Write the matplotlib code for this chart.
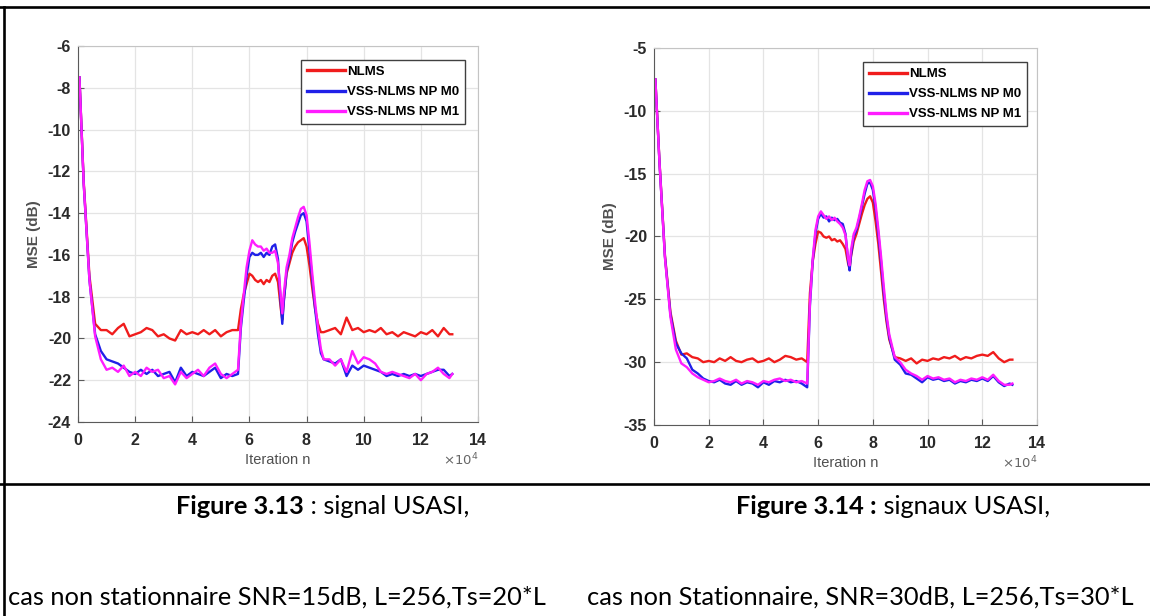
import numpy as np
import matplotlib
matplotlib.use('Agg')
import matplotlib.pyplot as plt
from matplotlib.lines import Line2D
from matplotlib.ticker import ScalarFormatter, MultipleLocator

plt.rcParams['axes.unicode_minus'] = False

# Data (iterations in units of 1e4) -------------------------------- %%%%
iters_e4 = [0.05, 0.2, 0.4, 0.6, 0.8,
            1.0, 1.2, 1.4, 1.6, 1.8, 2.0, 2.2, 2.4, 2.6, 2.8, 3.0, 3.2, 3.4, 3.6, 3.8,
            4.0, 4.2, 4.4, 4.6, 4.8, 5.0, 5.2, 5.4, 5.6,
            5.7, 5.8, 5.9, 6.0, 6.1, 6.2, 6.3, 6.4, 6.5, 6.6, 6.7, 6.8, 6.9, 7.0, 7.1, 7.15,
            7.2, 7.3, 7.4, 7.5, 7.6, 7.7, 7.8, 7.9, 8.0, 8.1, 8.2, 8.3, 8.4, 8.5, 8.6,
            8.8, 9.0, 9.2, 9.4, 9.6, 9.8, 10.0, 10.2, 10.4, 10.6, 10.8, 11.0, 11.2, 11.4,
            11.6, 11.8, 12.0, 12.2, 12.4, 12.6, 12.8, 13.0, 13.1]

# SNR = 15 dB
nlms_15 = [-7.5, -12.5, -17.0, -19.3, -19.6,
           -19.6, -19.8, -19.5, -19.3, -19.9, -19.8, -19.7, -19.5, -19.6, -19.9, -19.8, -20.0, -20.1, -19.6, -19.8,
           -19.7, -19.8, -19.6, -19.8, -19.6, -19.9, -19.7, -19.6, -19.6,
           -18.6, -17.9, -17.4, -16.9, -17.0, -17.2, -17.3, -17.2, -17.4, -17.2, -17.3, -17.0, -16.9, -17.3, -18.6, -19.1,
           -18.2, -16.9, -16.4, -15.9, -15.6, -15.4, -15.3, -15.2, -15.6, -16.5, -17.6, -18.6, -19.3, -19.7, -19.7,
           -19.6, -19.5, -19.8, -19.0, -19.6, -19.5, -19.7, -19.6, -19.7, -19.5, -19.8, -19.7, -19.9, -19.7,
           -19.8, -19.9, -19.7, -19.8, -19.6, -19.9, -19.5, -19.8, -19.8]
m0_15 = [-7.5, -12.6, -17.2, -19.8, -20.6,
         -21.0, -21.1, -21.2, -21.4, -21.6, -21.7, -21.5, -21.7, -21.5, -21.8, -21.7, -21.6, -22.1, -21.4, -21.8,
         -21.6, -21.7, -21.8, -21.6, -21.4, -21.9, -21.7, -21.8, -21.7,
         -19.5, -18.2, -17.0, -16.1, -15.9, -16.0, -16.0, -15.9, -16.1, -15.9, -16.0, -15.6, -15.5, -16.2, -18.4, -19.3,
         -18.3, -16.8, -16.2, -15.4, -14.9, -14.5, -14.1, -14.0, -14.4, -15.8, -17.2, -18.6, -19.8, -20.7, -21.0,
         -21.1, -21.2, -21.0, -21.8, -21.3, -21.5, -21.3, -21.4, -21.5, -21.6, -21.8, -21.7, -21.8, -21.7,
         -21.8, -21.7, -21.8, -21.7, -21.6, -21.5, -21.5, -21.8, -21.7]
m1_15 = [-7.5, -12.6, -17.2, -19.9, -21.0,
         -21.5, -21.4, -21.6, -21.3, -21.8, -21.6, -21.8, -21.4, -21.6, -21.5, -21.9, -21.8, -22.2, -21.6, -21.9,
         -21.7, -21.5, -21.8, -21.4, -21.2, -21.7, -21.9, -21.7, -21.5,
         -19.3, -17.9, -16.6, -15.8, -15.3, -15.5, -15.6, -15.6, -15.8, -15.7, -15.9, -15.9, -15.8, -16.4, -18.0, -18.8,
         -17.9, -16.6, -16.0, -15.2, -14.7, -14.2, -13.8, -13.7, -14.1, -15.4, -16.9, -18.3, -19.5, -20.5, -21.0,
         -21.0, -21.3, -21.0, -21.6, -20.6, -21.2, -20.9, -21.0, -21.2, -21.6, -21.7, -21.6, -21.7, -21.8,
         -21.9, -21.7, -22.0, -21.7, -21.6, -21.4, -21.7, -21.9, -21.7]

# SNR = 30 dB
nlms_30 = [-7.5, -14.0, -21.5, -26.0, -28.3,
           -29.4, -29.3, -29.6, -29.7, -30.0, -29.9, -30.0, -29.7, -29.9, -29.6, -29.9, -30.0, -29.8, -29.7, -30.0,
           -29.9, -29.7, -30.0, -29.8, -29.5, -29.6, -29.8, -29.7, -30.0,
           -24.5, -22.0, -20.6, -19.6, -19.7, -20.0, -20.1, -20.0, -20.3, -20.2, -20.4, -20.3, -20.6, -21.0, -22.2, -22.5,
           -21.6, -20.4, -19.8, -19.0, -18.2, -17.5, -17.0, -16.8, -17.3, -18.8, -20.6, -22.8, -25.0, -26.8, -28.2,
           -29.6, -29.7, -29.9, -29.7, -30.1, -29.8, -29.9, -29.7, -29.8, -29.6, -29.7, -29.5, -29.8, -29.6,
           -29.7, -29.5, -29.4, -29.5, -29.2, -29.7, -30.0, -29.8, -29.8]
m0_30 = [-7.5, -14.1, -21.6, -26.2, -28.5,
         -29.3, -29.7, -30.6, -30.9, -31.3, -31.5, -31.6, -31.4, -31.7, -31.8, -31.5, -31.8, -31.6, -31.7, -32.0,
         -31.6, -31.8, -31.5, -31.6, -31.4, -31.6, -31.5, -31.7, -32.0,
         -25.5, -22.0, -19.8, -18.6, -18.2, -18.5, -18.4, -18.8, -18.5, -18.7, -18.6, -18.9, -19.0, -19.8, -22.0, -22.7,
         -21.5, -20.0, -19.5, -18.6, -17.6, -16.6, -15.8, -15.7, -16.3, -17.8, -19.8, -22.0, -24.5, -26.5, -28.0,
         -29.8, -30.2, -30.9, -31.0, -31.3, -31.6, -31.2, -31.4, -31.3, -31.5, -31.4, -31.7, -31.5, -31.6,
         -31.4, -31.5, -31.3, -31.5, -31.1, -31.6, -31.9, -31.7, -31.8]
m1_30 = [-7.5, -14.1, -21.7, -26.4, -29.0,
         -30.1, -30.4, -30.9, -31.2, -31.4, -31.6, -31.5, -31.3, -31.5, -31.6, -31.4, -31.7, -31.5, -31.6, -31.8,
         -31.5, -31.6, -31.4, -31.3, -31.5, -31.4, -31.6, -31.5, -31.7,
         -25.3, -21.8, -19.5, -18.4, -18.0, -18.3, -18.6, -18.4, -18.7, -18.5, -18.8, -19.0, -19.3, -19.9, -21.8, -22.3,
         -21.1, -19.8, -19.3, -18.4, -17.4, -16.3, -15.6, -15.5, -16.0, -17.4, -19.4, -21.6, -24.0, -26.2, -27.8,
         -29.6, -30.0, -30.6, -30.9, -31.1, -31.4, -31.1, -31.3, -31.2, -31.4, -31.3, -31.6, -31.4, -31.5,
         -31.3, -31.4, -31.2, -31.4, -31.0, -31.5, -31.8, -31.8, -31.7]

labels = ['NLMS', 'VSS-NLMS NP M0', 'VSS-NLMS NP M1']
colors = ['#f01c1c', '#2020e8', '#ff1cff']

caption_bold = ['Figure 3.13', 'Figure 3.14 :']
caption_rest = [' : signal USASI,', ' signaux USASI,']
caption_line2 = ['cas non stationnaire SNR=15dB, L=256,Ts=20*L',
                 'cas non Stationnaire, SNR=30dB, L=256,Ts=30*L']

# Figure ------------------------------------------------------------ %%%%
W, H = 1150, 616
fig = plt.figure(figsize=(W/100, H/100), dpi=100)

def px(x0, y0, x1, y1):
    return [x0/W, 1 - y1/H, (x1 - x0)/W, (y1 - y0)/H]

panels = [
    dict(rect=px(78, 46, 478, 422), series=[nlms_15, m0_15, m1_15], ylim=(-24, -6), ystep=2,
         leg=(0.9675, 0.963)),
    dict(rect=px(654, 48, 1037, 425), series=[nlms_30, m0_30, m1_30], ylim=(-35, -5), ystep=5,
         leg=(0.974, 0.963)),
]

x_iter = np.array(iters_e4) * 1e4
for p in panels:
    ax = fig.add_axes(p['rect'])
    for ys, lab, c in zip(p['series'], labels, colors):
        ax.plot(x_iter, ys, '-', color=c, lw=1.7, label=lab)
    ax.set_xlim(0, 14e4)
    ax.set_ylim(*p['ylim'])
    ax.xaxis.set_major_locator(MultipleLocator(2e4))
    ax.yaxis.set_major_locator(MultipleLocator(p['ystep']))
    fmt = ScalarFormatter(useMathText=True, useOffset=False)
    fmt.set_powerlimits((4, 4))
    ax.xaxis.set_major_formatter(fmt)
    ax.grid(True, color='#e4e4e4', lw=0.9)
    ax.set_axisbelow(True)
    for s in ['left', 'bottom']:
        ax.spines[s].set_color('#5a5a5a')
    for s in ['top', 'right']:
        ax.spines[s].set_color('#c4c4c4')
    ax.tick_params(direction='in', length=4, colors='#5a5a5a', labelcolor='#2a2a2a', labelsize=11.5)
    ax.tick_params(axis='x', pad=7)
    ax.tick_params(axis='y', pad=5)
    for t in ax.get_xticklabels() + ax.get_yticklabels():
        t.set_fontweight('bold')
        t.set_family('Liberation Sans')
    ax.xaxis.get_offset_text().set_color('#666666')
    ax.xaxis.get_offset_text().set_fontsize(9.5)
    ax.set_xlabel('Iteration n', fontsize=10.5, color='#505050', family='Liberation Sans', labelpad=4)
    ax.set_ylabel('MSE (dB)', fontsize=11, color='#505050', family='Liberation Sans',
                  fontweight='bold', labelpad=5)
    leg = ax.legend(loc='upper right', bbox_to_anchor=p['leg'], borderaxespad=0,
                    fancybox=False, framealpha=1, edgecolor='#404040',
                    handlelength=2.9, handletextpad=0.15, labelspacing=0.6,
                    borderpad=0.45, prop=dict(family='Liberation Sans', weight='bold', size=9.5))
    leg.get_frame().set_linewidth(1.0)
    for h in leg.get_lines():
        h.set_linewidth(2.4)

# Table lines ------------------------------------------------------- %%%%
lw_tab = 1.9
fig.add_artist(Line2D([0, 1], [1 - 7/H, 1 - 7/H], color='black', lw=lw_tab))
fig.add_artist(Line2D([4/W, 4/W], [0, 1 - 7/H], color='black', lw=lw_tab))
fig.add_artist(Line2D([0, 1], [1 - 484/H, 1 - 484/H], color='black', lw=lw_tab))

# Captions ---------------------------------------------------------- %%%%
cap_font = 'Lato'
renderer = fig.canvas.get_renderer()
probe = fig.text(0, 0, caption_line2[0], family=cap_font, size=16)
w_probe = probe.get_window_extent(renderer).width
probe.remove()
cap_size = 16 * 538 / w_probe

line1_x = [176, 736]
line2_x = [8, 587]
for i in range(2):
    t1 = fig.text(line1_x[i]/W, 1 - 506/H, caption_bold[i], family=cap_font, size=cap_size,
                  fontweight='bold', ha='left', va='center')
    plt.annotate(caption_rest[i], xy=(1, 0.5), xycoords=t1, va='center', ha='left',
                 family=cap_font, size=cap_size, annotation_clip=False)
    fig.text(line2_x[i]/W, 1 - 597/H, caption_line2[i], family=cap_font, size=cap_size,
             ha='left', va='center')

plt.savefig('out.png', dpi=100)
